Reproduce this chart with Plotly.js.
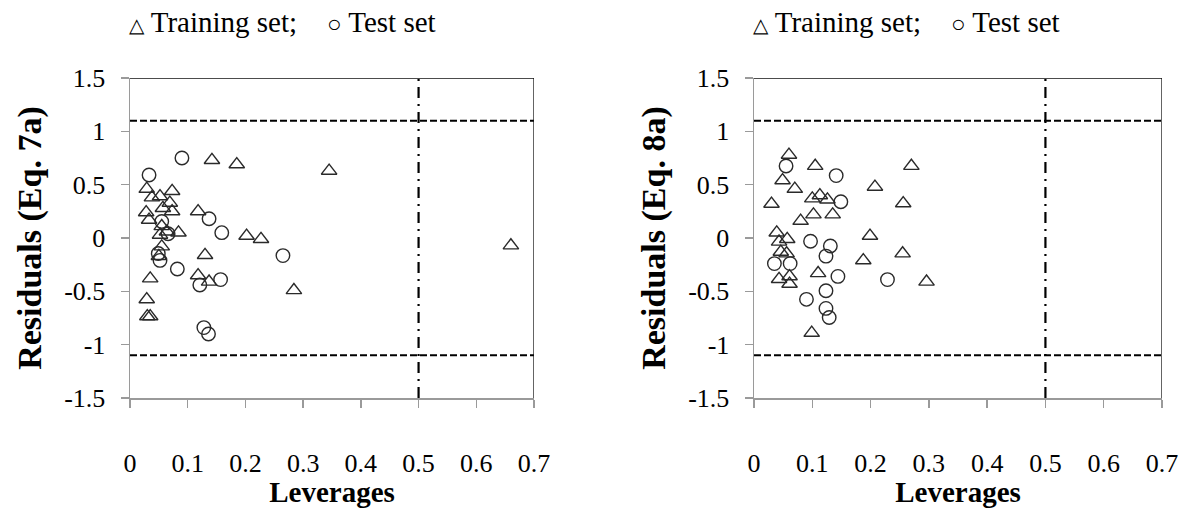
<!DOCTYPE html>
<html>
<head>
<meta charset="utf-8">
<script src="https://cdn.plot.ly/plotly-3.0.1.min.js"></script>
<style>html,body{margin:0;padding:0;background:#fff;}#chart{width:1179px;height:508px;}</style>
</head>
<body>
<div id="chart"></div>
<script>
// ---- Data ----
// Left panel: Eq. 7a
const trainLevA = [0.029,0.038,0.052,0.073,0.069,0.057,0.073,0.028,0.033,0.055,0.052,0.064,0.084,0.055,0.050,0.118,0.142,0.185,0.345,0.202,0.227,0.130,0.118,0.137,0.284,0.035,0.029,0.030,0.035,0.660];
const trainResA = [0.46,0.38,0.39,0.44,0.33,0.28,0.25,0.24,0.17,0.11,0.03,0.06,0.05,-0.08,-0.17,0.25,0.73,0.69,0.63,0.02,-0.01,-0.16,-0.35,-0.41,-0.49,-0.38,-0.575,-0.735,-0.735,-0.07];
const testLevA = [0.033,0.090,0.137,0.159,0.265,0.055,0.066,0.049,0.052,0.082,0.121,0.157,0.128,0.136];
const testResA = [0.59,0.75,0.18,0.05,-0.165,0.155,0.04,-0.145,-0.21,-0.29,-0.44,-0.39,-0.84,-0.90];
// Right panel: Eq. 8a
const trainLevB = [0.060,0.105,0.049,0.070,0.030,0.100,0.113,0.126,0.102,0.135,0.080,0.039,0.057,0.043,0.046,0.056,0.270,0.2075,0.256,0.199,0.255,0.1875,0.110,0.296,0.043,0.061,0.061,0.099];
const trainResB = [0.78,0.675,0.54,0.46,0.32,0.37,0.40,0.36,0.22,0.22,0.16,0.05,-0.01,-0.035,-0.13,-0.145,0.675,0.48,0.325,0.02,-0.145,-0.21,-0.33,-0.41,-0.385,-0.36,-0.43,-0.89];
const testLevB = [0.055,0.141,0.149,0.097,0.131,0.1235,0.035,0.062,0.144,0.229,0.1235,0.090,0.1235,0.129];
const testResB = [0.675,0.585,0.34,-0.03,-0.075,-0.17,-0.24,-0.24,-0.36,-0.39,-0.495,-0.575,-0.66,-0.745];

const xTicks = [0,0.1,0.2,0.3,0.4,0.5,0.6,0.7];
const xTickText = ['0','0.1','0.2','0.3','0.4','0.5','0.6','0.7'];
const yTicks = [-1.5,-1,-0.5,0,0.5,1,1.5];
const yTickText = ['-1.5','-1','-0.5','0','0.5','1','1.5'];
const residualLimit = 1.1;
const leverageLimit = 0.5;
const yTitles = ['Residuals (Eq. 7a)','Residuals (Eq. 8a)'];
const xTitle = 'Leverages';
const legendSymbols = ['\u25B3', '\u25CB'];
const legendNames = ['Training set;', 'Test set'];

// ---- Styling ----
const FONT = 'Liberation Serif';
const markColor = '#2a2a2a';
const mk = (sym) => ({symbol: sym, size: 13.5, color: markColor, line: {color: markColor, width: 1.4}});

const traces = [
  {x: trainLevA, y: trainResA, xaxis: 'x', yaxis: 'y', mode: 'markers', type: 'scatter', name: 'Training set', marker: mk('triangle-up-open'), showlegend: false},
  {x: testLevA, y: testResA, xaxis: 'x', yaxis: 'y', mode: 'markers', type: 'scatter', name: 'Test set', marker: mk('circle-open'), showlegend: false},
  {x: trainLevB, y: trainResB, xaxis: 'x2', yaxis: 'y2', mode: 'markers', type: 'scatter', name: 'Training set', marker: mk('triangle-up-open'), showlegend: false},
  {x: testLevB, y: testResB, xaxis: 'x2', yaxis: 'y2', mode: 'markers', type: 'scatter', name: 'Test set', marker: mk('circle-open'), showlegend: false}
];

const W = 1179, H = 508;
const px = v => v / W, py = v => 1 - v / H;
const yDom = [py(398), py(78)];

function xAxis(dom, anchor) {
  return {domain: dom, anchor: anchor, range: [0, 0.7], tickvals: xTicks, ticktext: xTickText,
    showgrid: false, zeroline: false, showline: true, linecolor: '#9a9a9a', linewidth: 1.5,
    ticks: 'outside', ticklen: 8, tickcolor: '#9a9a9a', tickwidth: 1.5, ticklabelstandoff: 33,
    tickfont: {family: FONT, size: 26, color: '#000'},
    title: {text: '<b>' + xTitle + '</b>', font: {family: FONT, size: 29, color: '#000'}, standoff: 10}};
}
function yAxis(anchor, title) {
  return {domain: yDom, anchor: anchor, range: [-1.5, 1.5], tickvals: yTicks, ticktext: yTickText,
    showgrid: false, zeroline: false, showline: true, linecolor: '#9a9a9a', linewidth: 1.5,
    ticks: 'outside', ticklen: 8, tickcolor: '#9a9a9a', tickwidth: 1.5, ticklabelstandoff: 10,
    tickfont: {family: FONT, size: 26, color: '#000'},
    title: {text: '<b>' + title + '</b>', font: {family: FONT, size: 34, color: '#000'}, standoff: 12}};
}

function panelShapes(xr, yr) {
  return [
    {type: 'line', xref: xr, yref: yr, x0: 0, x1: 0.7, y0: residualLimit, y1: residualLimit, line: {color: '#000', width: 2, dash: '7px,3px'}},
    {type: 'line', xref: xr, yref: yr, x0: 0, x1: 0.7, y0: -residualLimit, y1: -residualLimit, line: {color: '#000', width: 2, dash: '7px,3px'}},
    {type: 'line', xref: xr, yref: yr, x0: leverageLimit, x1: leverageLimit, y0: -1.5, y1: 1.5, line: {color: '#000', width: 2.2, dash: '11px,6px,2px,6px'}},
    {type: 'line', xref: xr, yref: yr, x0: 0, x1: 0.7, y0: 1.5, y1: 1.5, line: {color: '#111', width: 1.3}},
    {type: 'line', xref: xr, yref: yr, x0: 0.7, x1: 0.7, y0: -1.5, y1: 1.5, line: {color: '#111', width: 1.3}}
  ];
}

const legFont = {family: FONT, size: 29, color: '#000'};
const sym = (s, sz) => '<span style="font-size:' + sz + 'px">' + s + '</span>';
const annotations = [];
[[127, 325], [751, 949]].forEach(pos => {
  annotations.push({xref: 'paper', yref: 'paper', x: px(pos[0]), y: py(22), xanchor: 'left', yanchor: 'middle', showarrow: false, text: sym(legendSymbols[0], 20) + ' ' + legendNames[0], font: legFont});
  annotations.push({xref: 'paper', yref: 'paper', x: px(pos[1]), y: py(22), xanchor: 'left', yanchor: 'middle', showarrow: false, text: sym(legendSymbols[1], 24) + ' ' + legendNames[1], font: legFont});
});

const layout = {
  width: W, height: H,
  margin: {l: 0, r: 0, t: 0, b: 0},
  paper_bgcolor: '#fff', plot_bgcolor: '#fff',
  showlegend: false,
  font: {family: FONT},
  xaxis: xAxis([px(130), px(534)], 'y'),
  yaxis: yAxis('x', yTitles[0]),
  xaxis2: xAxis([px(754), px(1162)], 'y2'),
  yaxis2: yAxis('x2', yTitles[1]),
  shapes: panelShapes('x', 'y').concat(panelShapes('x2', 'y2')),
  annotations: annotations
};

Plotly.newPlot('chart', traces, layout, {displayModeBar: false, staticPlot: true});
</script>
</body>
</html>
